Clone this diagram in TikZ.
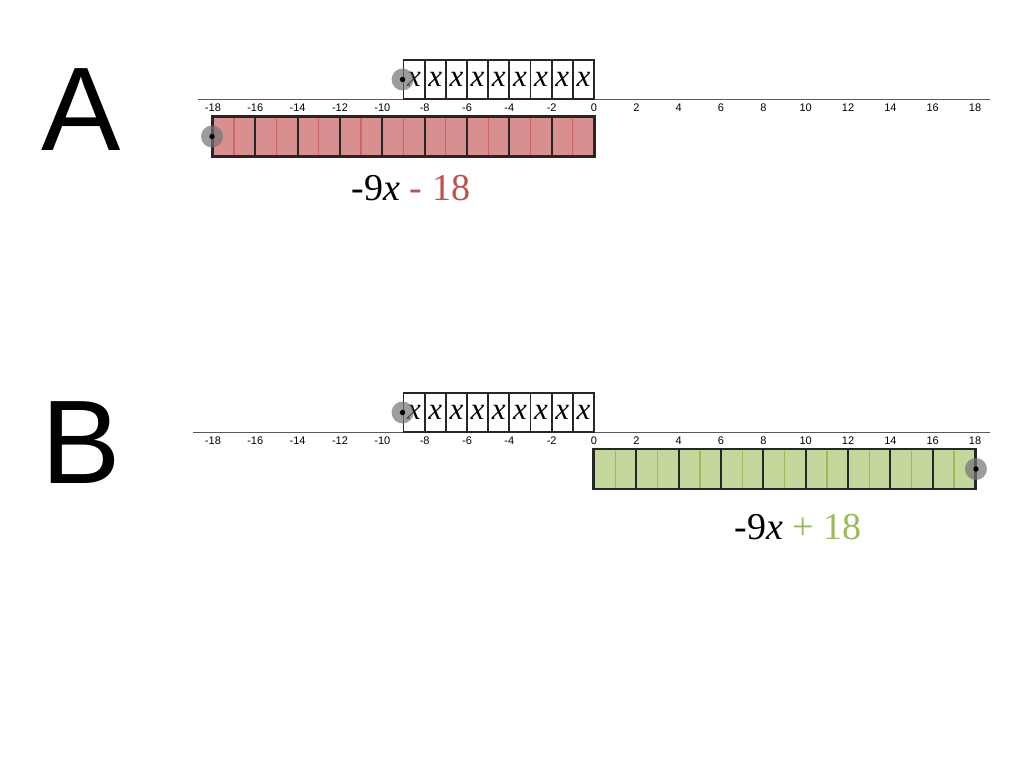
\documentclass[tikz,border=0pt]{standalone}
\usepackage{fontspec}
\setmainfont{Liberation Serif}
\newfontfamily\sansf{Liberation Sans}
\definecolor{barred}{HTML}{D98F8F}
\definecolor{linered}{HTML}{D06464}
\definecolor{txtred}{HTML}{C0504D}
\definecolor{bargreen}{HTML}{C3D69B}
\definecolor{linegreen}{HTML}{9BBB59}
\definecolor{txtgreen}{HTML}{9BBB59}
\tikzset{
  numline/.style={draw=black!65, line width=0.9pt},
  ticklab/.style={font=\sansf\fontsize{11}{11}\selectfont, inner sep=0pt},
  xbox/.style={draw=black!85, line width=1.8pt, minimum width=21.17pt, minimum height=39pt, inner sep=0pt, font=\fontsize{31}{31}\selectfont\itshape},
  barbox/.style={draw=black!85, line width=1.8pt, minimum height=39pt, inner sep=0pt},
  evenline/.style={line width=2.2pt, draw=black!85},
  halo/.style={fill=black!55, opacity=0.7},
  pin/.style={fill=black},
  bigletter/.style={font=\sansf\fontsize{119}{119}\selectfont, inner sep=0pt},
  expr/.style={font=\fontsize{38}{38}\selectfont, inner sep=0pt}
}
\begin{document}
\begin{tikzpicture}[x=1pt,y=-1pt]
\useasboundingbox (0,0) rectangle (1024,768);
\def\unitlen{21.17}
% ---------- A ----------
\node[bigletter] (A) at (81,110) {A};
\coordinate (nlAl) at (198,99);
\coordinate (nlAr) at (990,99);
\draw[numline] (nlAl) -- (nlAr);
\foreach \v in {-18,-16,...,18}
  \node[ticklab] (ta\v) at ({594+\unitlen*\v},108) {\v};
\node[barbox, fill=barred, minimum width={18*\unitlen pt}] (redbar) at ({594-9*\unitlen},136.5) {};
\foreach \v in {-17,-15,...,-1}
  \draw[linered, line width=1.3pt] ({594+\unitlen*\v},118) -- ({594+\unitlen*\v},155);
\foreach \v in {-16,-14,...,-2}
  \draw[evenline] ({594+\unitlen*\v},117) -- ({594+\unitlen*\v},156);
\draw[barbox] (redbar.south west) rectangle (redbar.north east);
\foreach \i in {1,...,9}
  \node[xbox] (xa\i) at ({594-\unitlen*(\i-0.5)},79.5) {x};
\fill[halo] (xa9.west) circle (11);
\fill[pin] (xa9.west) circle (2.7);
\fill[halo] (redbar.west) circle (11);
\fill[pin] (redbar.west) circle (2.7);
\node[expr] (exprA) at (411,188) {-9\textit{x} \textcolor{txtred}{- 18}};
% ---------- B ----------
\node[bigletter] (B) at (81,443) {B};
\coordinate (nlBl) at (193,432);
\coordinate (nlBr) at (990,432);
\draw[numline] (nlBl) -- (nlBr);
\foreach \v in {-18,-16,...,18}
  \node[ticklab] (tb\v) at ({594+\unitlen*\v},441) {\v};
\node[barbox, fill=bargreen, minimum width={18*\unitlen pt}] (greenbar) at ({594+9*\unitlen},469) {};
\foreach \v in {1,3,...,17}
  \draw[linegreen, line width=1.3pt] ({594+\unitlen*\v},450.5) -- ({594+\unitlen*\v},487.5);
\foreach \v in {2,4,...,16}
  \draw[evenline] ({594+\unitlen*\v},449.5) -- ({594+\unitlen*\v},488.5);
\draw[barbox] (greenbar.south west) rectangle (greenbar.north east);
\foreach \i in {1,...,9}
  \node[xbox] (xb\i) at ({594-\unitlen*(\i-0.5)},412.5) {x};
\fill[halo] (xb9.west) circle (11);
\fill[pin] (xb9.west) circle (2.7);
\fill[halo] (greenbar.east) circle (11);
\fill[pin] (greenbar.east) circle (2.7);
\node[expr] (exprB) at (798,527) {-9\textit{x} \textcolor{txtgreen}{+ 18}};
\end{tikzpicture}
\end{document}
